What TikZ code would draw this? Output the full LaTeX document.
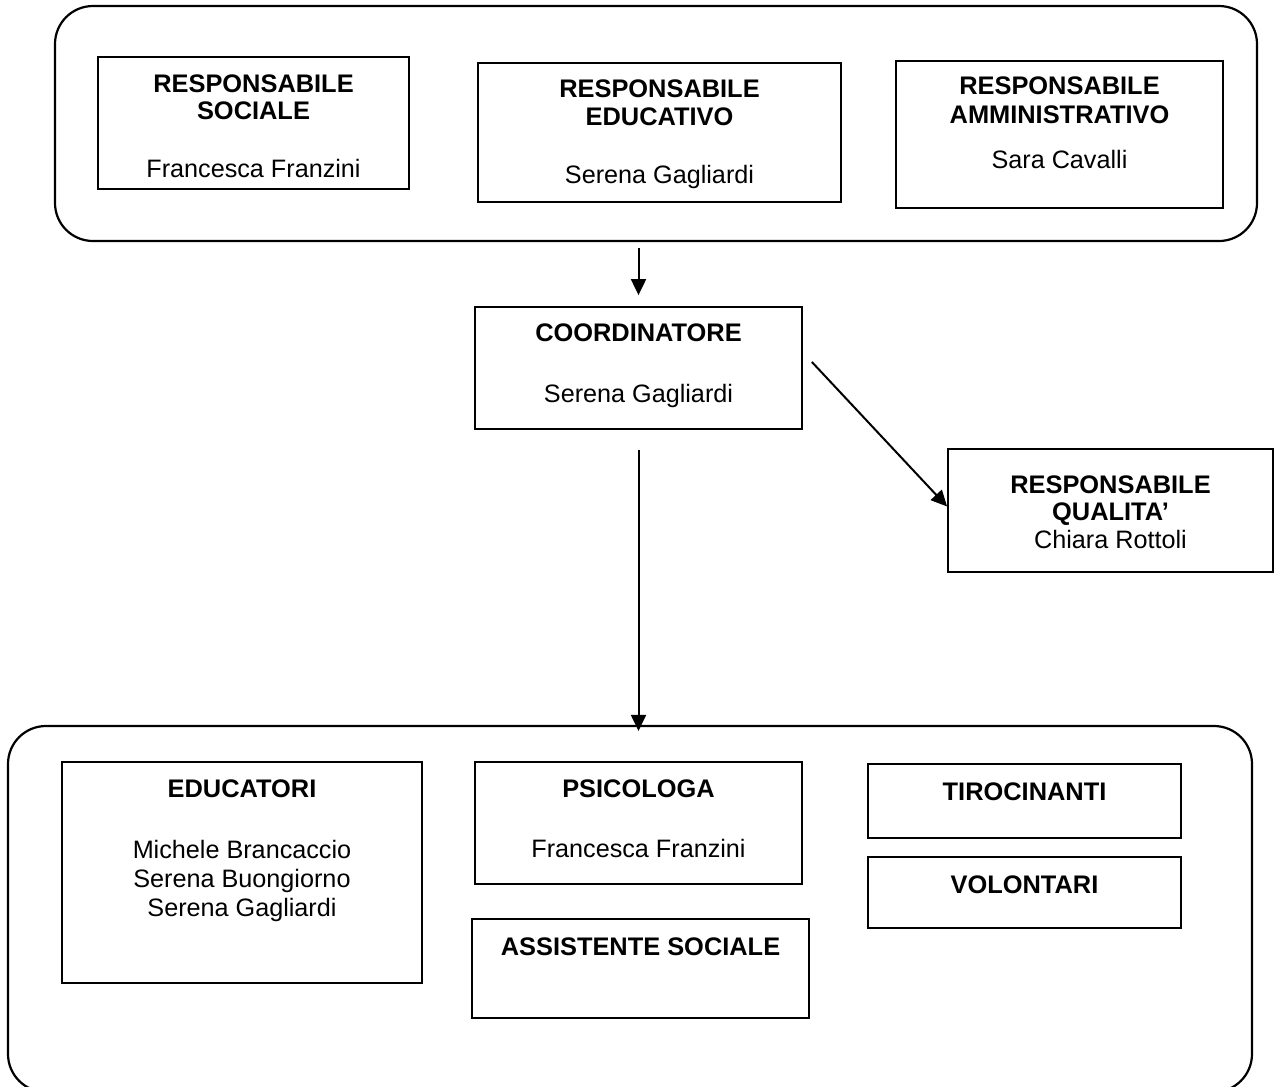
\documentclass[tikz,border=0pt]{standalone}
\usepackage{fontspec}
\setmainfont{Liberation Sans}
\usetikzlibrary{arrows.meta,fit}

\tikzset{
  groupbox/.style={draw, line width=1.1pt, rounded corners=19pt, inner sep=0pt},
  orgbox/.style={draw, line width=0.9pt, inner sep=0pt},
  ttl/.style={anchor=base, inner sep=0pt, font=\fontsize{12.7}{14}\selectfont\bfseries},
  nm/.style={anchor=base, inner sep=0pt, font=\fontsize{12.6}{14}\selectfont},
  link/.style={line width=1pt, -{Triangle[length=8pt,width=7.5pt]}}
}

\begin{document}
\begin{tikzpicture}[x=0.5pt, y=-0.5pt]
\useasboundingbox (0,0) rectangle (1275,1087);

% groups
\node[groupbox, fit={(55,6) (1257,241)}] (topgrp) {};
\node[groupbox, fit={(8,726) (1252,1092)}] (botgrp) {};

% management level
\node[orgbox, fit={(98,57) (409,189)}] (soc) {};
\node[ttl] (soc1) at (253.5,92) {RESPONSABILE};
\node[ttl] (soc2) at (253.5,119) {SOCIALE};
\node[nm]  (soc3) at (253.5,177) {Francesca Franzini};

\node[orgbox, fit={(478,63) (841,202)}] (edu) {};
\node[ttl] (edu1) at (659.5,97) {RESPONSABILE};
\node[ttl] (edu2) at (659.5,125) {EDUCATIVO};
\node[nm]  (edu3) at (659.5,183) {Serena Gagliardi};

\node[orgbox, fit={(896,61) (1223,208)}] (amm) {};
\node[ttl] (amm1) at (1059.5,94) {RESPONSABILE};
\node[ttl] (amm2) at (1059.5,123) {AMMINISTRATIVO};
\node[nm]  (amm3) at (1059.5,168) {Sara Cavalli};

% coordination
\node[orgbox, fit={(475,307) (802,429)}] (coord) {};
\node[ttl] (coord1) at (638.5,341) {COORDINATORE};
\node[nm]  (coord2) at (638.5,402) {Serena Gagliardi};

\node[orgbox, fit={(948,449) (1273,572)}] (qual) {};
\node[ttl] (qual1) at (1110.5,493) {RESPONSABILE};
\node[ttl] (qual2) at (1110.5,520) {QUALITA’};
\node[nm]  (qual3) at (1110.5,548) {Chiara Rottoli};

% operating staff
\node[orgbox, fit={(62,762) (422,983)}] (educ) {};
\node[ttl] (educ1) at (242,797) {EDUCATORI};
\node[nm]  (educ2) at (242,858) {Michele Brancaccio};
\node[nm]  (educ3) at (242,887) {Serena Buongiorno};
\node[nm]  (educ4) at (242,916) {Serena Gagliardi};

\node[orgbox, fit={(475,762) (802,884)}] (psi) {};
\node[ttl] (psi1) at (638.5,797) {PSICOLOGA};
\node[nm]  (psi2) at (638.5,857) {Francesca Franzini};

\node[orgbox, fit={(472,919) (809,1018)}] (ass) {};
\node[ttl] (ass1) at (640.5,955) {ASSISTENTE SOCIALE};

\node[orgbox, fit={(868,764) (1181,838)}] (tir) {};
\node[ttl] (tir1) at (1024.5,800) {TIROCINANTI};

\node[orgbox, fit={(868,857) (1181,928)}] (vol) {};
\node[ttl] (vol1) at (1024.5,893) {VOLONTARI};

% reporting lines
\draw[link, shorten <=3pt, shorten >=5.5pt] (coord.north |- topgrp.south) -- (coord.north);
\draw[link] ([shift={(9,-6)}]coord.east) -- ([yshift=2pt]qual.west);
\draw[link, shorten <=10pt, shorten >=-3pt] (coord.south) -- (coord.south |- botgrp.north);
\end{tikzpicture}
\end{document}
